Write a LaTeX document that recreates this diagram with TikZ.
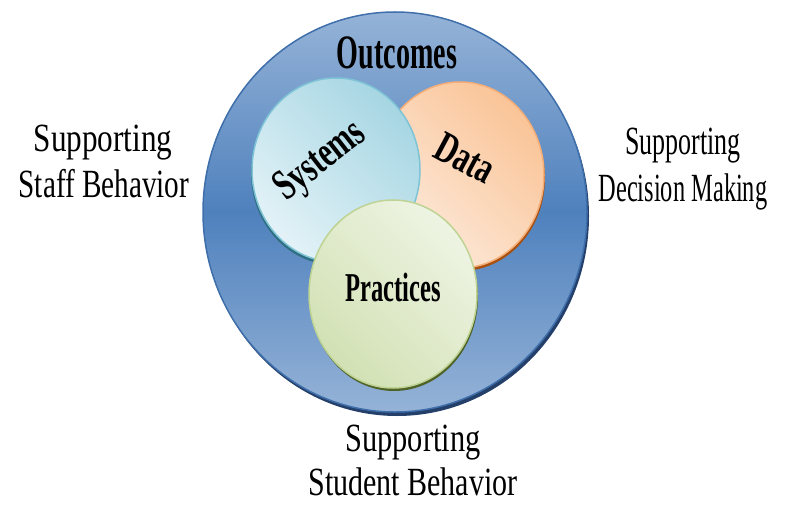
\documentclass[tikz,border=0pt]{standalone}
\usepackage{fontspec}
\setmainfont{Liberation Serif}
\usetikzlibrary{shadings}
\definecolor{bigtop}{HTML}{95B3D7}
\definecolor{bigmid}{HTML}{4F81BD}
\definecolor{bigedge}{HTML}{3F6FAA}
\definecolor{bigshadow}{HTML}{24406A}
\definecolor{syslight}{HTML}{E3F2F7}
\definecolor{sysdark}{HTML}{A6D6E3}
\definecolor{sysedge}{HTML}{7FC3D6}
\definecolor{sysshadow}{HTML}{2E6E80}
\definecolor{datlight}{HTML}{FDEBDD}
\definecolor{datdark}{HTML}{FAC497}
\definecolor{datedge}{HTML}{F5AE78}
\definecolor{datshadow}{HTML}{A8500F}
\definecolor{prlight}{HTML}{EEF4E3}
\definecolor{prdark}{HTML}{D2E1B4}
\definecolor{predge}{HTML}{BFD494}
\definecolor{prshadow}{HTML}{4F6228}
\tikzset{
  sidetext/.style={anchor=base, inner sep=0pt, font=\fontsize{40}{40}\selectfont},
  titletext/.style={inner sep=0pt, font=\fontsize{44}{44}\selectfont\bfseries},
}
\newcommand{\sq}[2]{\scalebox{#1}[1]{#2}}
\begin{document}
\begin{tikzpicture}[x=1pt,y=1pt]
\useasboundingbox (0,0) rectangle (786,504);
% big circle
\fill[bigshadow] (397,288) ellipse [x radius=192, y radius=200];
\shade[top color=bigtop, bottom color=bigtop, middle color=bigmid, draw=bigedge, line width=1.5pt]
  (395,292) ellipse [x radius=192, y radius=200];
\node[titletext, font=\fontsize{48}{48}\selectfont\bfseries] (outcomes) at (397,451) {\sq{0.585}{Outcomes}};
% data
\fill[datshadow] (461,326) ellipse [x radius=84, y radius=93];
\shade[left color=datlight, right color=datdark, shading angle=135, draw=datedge, line width=1.5pt]
  (460,329) ellipse [x radius=84, y radius=93];
% systems
\fill[sysshadow] (335,331) ellipse [x radius=84, y radius=92];
\shade[left color=syslight, right color=sysdark, shading angle=135, draw=sysedge, line width=1.5pt]
  (336,334) ellipse [x radius=84, y radius=92];
% practices
\fill[prshadow] (394,207) ellipse [x radius=84, y radius=94];
\shade[left color=prdark, right color=prlight, shading angle=135, draw=predge, line width=1.5pt]
  (393,210) ellipse [x radius=84, y radius=94];
\node[titletext, rotate=38] (systems) at (321,342) {\sq{0.68}{Systems}};
\node[titletext, rotate=-28] (data) at (465,346) {\sq{0.68}{Data}};
\node[titletext, font=\fontsize{41}{41}\selectfont\bfseries] (practices) at (393,217) {\sq{0.6}{Practices}};
% side texts
\node[sidetext] (l1) at (103,352) {\sq{0.78}{Supporting}};
\node[sidetext] (l2) at (104,306) {\sq{0.73}{Staff Behavior}};
\node[sidetext] (r1) at (683,349) {\sq{0.65}{Supporting}};
\node[sidetext] (r2) at (683,302) {\sq{0.61}{Decision Making}};
\node[sidetext] (b1) at (413,53) {\sq{0.76}{Supporting}};
\node[sidetext] (b2) at (413,9) {\sq{0.75}{Student Behavior}};
\end{tikzpicture}
\end{document}
